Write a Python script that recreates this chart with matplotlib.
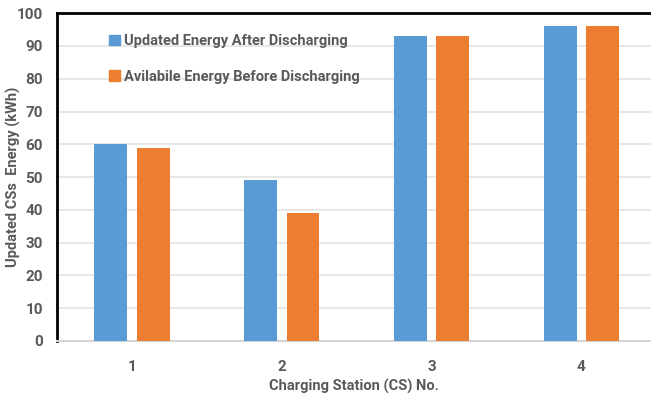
import numpy as np
import matplotlib.pyplot as plt
from matplotlib.patches import Patch

stations = [1, 2, 3, 4]
after_discharge = [60, 49, 93, 96]
before_discharge = [59, 39, 93, 96]
series_labels = ["Updated Energy After Discharging", "Avilabile Energy Before Discharging"]
y_ticks = list(range(0, 101, 10))

BLUE = "#5b9bd5"
ORANGE = "#ed7d31"
TEXT = "#595959"

plt.rcParams['font.family'] = ['Roboto', 'DejaVu Sans']

fig = plt.figure(figsize=(6.51, 3.99), dpi=100)
ax = fig.add_axes([0.0876, 0.1454, 0.9124, 0.8216])

x = np.array(stations, dtype=float)
w = 0.22
off = 0.142
ax.bar(x - off, after_discharge, width=w, color=BLUE, zorder=3)
ax.bar(x + off, before_discharge, width=w, color=ORANGE, zorder=3)

ax.set_xlim(0.5, 4.465)
ax.set_ylim(0, 100)
ax.set_yticks(y_ticks)
ax.set_xticks(stations)
ax.yaxis.grid(True, color="#e3e3e3", linewidth=1.2, zorder=0)
ax.set_axisbelow(True)

ax.spines["right"].set_visible(False)
ax.spines["top"].set_color("black")
ax.spines["top"].set_linewidth(2)
ax.spines["left"].set_color("black")
ax.spines["left"].set_linewidth(2)
ax.spines["bottom"].set_color("#d4d4d4")
ax.spines["bottom"].set_linewidth(1.5)

ax.tick_params(axis="both", length=0, labelsize=11, colors=TEXT)
ax.tick_params(axis="x", pad=14)
ax.tick_params(axis="y", pad=10)
for lab in ax.get_xticklabels() + ax.get_yticklabels():
    lab.set_fontweight("bold")

ax.set_xlabel("Charging Station (CS) No.", fontsize=10.5, color=TEXT, fontweight="bold", labelpad=3)
ax.set_ylabel("Updated CSs  Energy (kWh)", fontsize=10.5, color=TEXT, fontweight="bold")
ax.yaxis.set_label_coords(-0.06, 0.5)

handles = [Patch(color=BLUE), Patch(color=ORANGE)]
leg = ax.legend(handles, series_labels, loc="upper left", bbox_to_anchor=(0.066, 0.975),
                frameon=False, fontsize=10.5, labelspacing=1.45,
                handlelength=0.7, handleheight=0.7, handletextpad=0.3)
for t in leg.get_texts():
    t.set_color(TEXT)
    t.set_fontweight("bold")

fig.savefig("out.png", dpi=100)
